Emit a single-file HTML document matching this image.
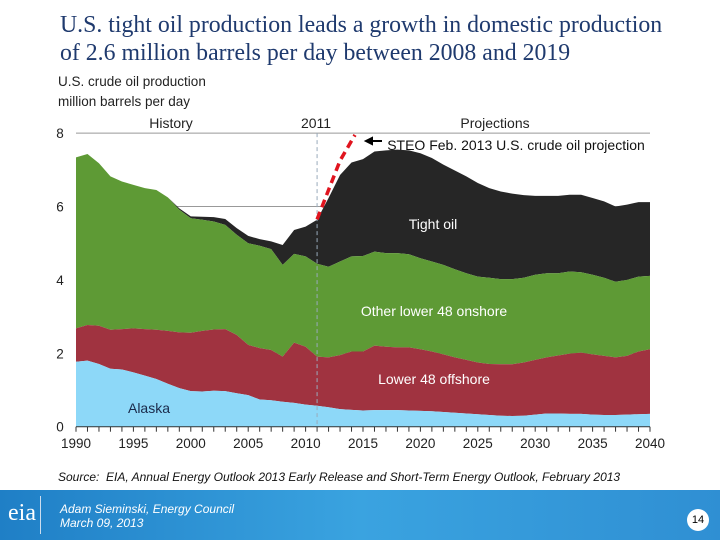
<!DOCTYPE html>
<html><head><meta charset="utf-8"><style>
body{margin:0;width:720px;height:540px;overflow:hidden;background:#fff;font-family:"Liberation Sans",sans-serif;position:relative}
.t{position:absolute;white-space:nowrap}
</style></head><body>
<div class="t" style="left:60px;top:11px;font-family:'Liberation Serif',serif;font-size:23.8px;line-height:28px;color:#1f3a6e">U.S. tight oil production leads a growth in domestic production<br>of 2.6 million barrels per day between 2008 and 2019</div>
<div class="t" style="left:58px;top:72px;font-size:13.5px;line-height:20px;color:#222">U.S. crude oil production<br>million barrels per day</div>
<svg id="c" width="720" height="470" style="position:absolute;left:0;top:0"></svg>
<div class="t" style="left:58px;top:470px;font-size:12px;font-style:italic;color:#111">Source:&nbsp; EIA, Annual Energy Outlook 2013 Early Release and Short-Term Energy Outlook, February 2013</div>
<div style="position:absolute;left:0;top:490px;width:720px;height:50px;background:linear-gradient(90deg,#1f7fc6,#3aa3e0 50%,#2f8fd3)">
 <div class="t" style="left:8px;top:10px;font-family:'Liberation Serif',serif;font-size:24px;color:#fff">eia</div>
 <div style="position:absolute;left:40px;top:6px;width:1px;height:38px;background:#cde"></div>
 <div class="t" style="left:60px;top:12px;font-size:12px;line-height:14px;font-style:italic;color:#fff">Adam Sieminski, Energy Council<br>March 09, 2013</div>
 <div class="t" style="left:687px;top:19px;width:22px;height:22px;border-radius:11px;background:#fff;color:#000;font-size:11px;text-align:center;line-height:22px">14</div>
</div>
<script>
const years=[];for(let y=1990;y<=2040;y++)years.push(y);
const alaska=[1.77,1.80,1.71,1.58,1.56,1.48,1.39,1.30,1.17,1.05,0.97,0.96,0.98,0.97,0.91,0.86,0.74,0.72,0.68,0.65,0.60,0.57,0.53,0.48,0.46,0.44,0.45,0.45,0.45,0.44,0.43,0.42,0.40,0.38,0.36,0.34,0.32,0.30,0.29,0.30,0.33,0.36,0.36,0.35,0.35,0.33,0.32,0.32,0.33,0.34,0.35];
const offshoreCum=[2.68,2.77,2.75,2.64,2.66,2.68,2.66,2.64,2.61,2.57,2.56,2.61,2.65,2.66,2.50,2.23,2.14,2.09,1.91,2.29,2.18,1.91,1.89,1.95,2.05,2.05,2.21,2.18,2.16,2.16,2.11,2.05,1.97,1.89,1.82,1.75,1.71,1.70,1.70,1.75,1.82,1.89,1.94,1.99,2.02,1.97,1.93,1.89,1.93,2.05,2.11];
const onshoreCum=[7.34,7.43,7.18,6.82,6.68,6.59,6.50,6.45,6.25,5.91,5.68,5.64,5.59,5.50,5.23,5.00,4.93,4.84,4.41,4.71,4.64,4.44,4.36,4.50,4.64,4.65,4.77,4.73,4.73,4.70,4.59,4.50,4.41,4.29,4.18,4.09,4.06,4.02,4.02,4.06,4.14,4.18,4.18,4.23,4.21,4.14,4.06,3.95,4.00,4.09,4.11];
const totalCum=[7.34,7.43,7.18,6.82,6.68,6.59,6.50,6.45,6.25,5.95,5.73,5.72,5.71,5.66,5.41,5.20,5.11,5.05,4.95,5.36,5.45,5.64,6.23,6.86,7.20,7.29,7.50,7.53,7.55,7.53,7.45,7.32,7.14,6.98,6.82,6.64,6.50,6.41,6.35,6.31,6.29,6.29,6.29,6.32,6.32,6.23,6.14,6.00,6.05,6.12,6.12];
const steoYears=[2011,2012,2013,2014.3];
const steoValues=[5.65,6.45,7.25,7.95];
const yTicks=[0,2,4,6,8];
const xTickLabels=[1990,1995,2000,2005,2010,2015,2020,2025,2030,2035,2040];
const NS='http://www.w3.org/2000/svg';const svg=document.getElementById('c');
const X=y=>76+(y-1990)*11.48, Y=v=>426.7-v*36.7;
function el(t,a,txt){const e=document.createElementNS(NS,t);for(const k in a)e.setAttribute(k,a[k]);if(txt!=null)e.textContent=txt;svg.appendChild(e);return e;}
yTicks.forEach(v=>{if(v>0){const g=el('line',{x1:76,x2:650,y1:Y(v),y2:Y(v),stroke:'#999','stroke-width':1});

}
const t=el('text',{x:60,y:Y(v)+5,'font-size':13.5,'text-anchor':'middle',fill:'#222'},v);

});
function area(lo,hi,color,name){let d='M'+years.map((y,i)=>X(y)+','+Y(hi[i])).join('L');
for(let i=years.length-1;i>=0;i--)d+='L'+X(years[i])+','+Y(lo?lo[i]:0);
const p=el('path',{d:d+'Z',fill:color});

}
area(onshoreCum,totalCum,'#262626','tight-oil-area');
area(offshoreCum,onshoreCum,'#5e9a35','other-onshore-area');
area(alaska,offshoreCum,'#a03340','offshore-area');
area(null,alaska,'#8dd8f8','alaska-area');
const dl=el('line',{x1:X(2011),x2:X(2011),y1:Y(8),y2:Y(0),stroke:'#9ab',"stroke-dasharray":'4,3','stroke-width':1});


const ax=el('line',{x1:76,x2:650,y1:Y(0),y2:Y(0),stroke:'#333'});


for(let y=1990;y<=2040;y++){const tk=el('line',{x1:X(y),x2:X(y),y1:Y(0),y2:Y(0)+5,stroke:'#333'});

}
xTickLabels.forEach(y=>{const t=el('text',{x:X(y),y:448,'font-size':13.5,'text-anchor':'middle',fill:'#222'},y);

});
let sd='M'+steoYears.map((y,i)=>X(y)+','+Y(steoValues[i])).join('L');
const sp=el('path',{d:sd,fill:'none',stroke:'#e0141e','stroke-width':3.5,'stroke-dasharray':'8,5','stroke-linejoin':'round'});


const ar=el('path',{d:'M382,141L366,141M366,141L372,138L372,144Z',stroke:'#000','stroke-width':2,fill:'#000'});


[['History',171,128,'#222','history-label'],['2011',316,128,'#222','year-2011-label'],['Projections',495,128,'#222','projections-label'],
['STEO Feb. 2013 U.S. crude oil projection',516,150,'#111','steo-label'],['Tight oil',433,229,'#fff','tight-oil-label'],
['Other lower 48 onshore',434,316,'#fff','onshore-label'],['Lower 48 offshore',434,384,'#fff','offshore-label'],['Alaska',149,413,'#1a2a4a','alaska-label']].forEach(a=>{
const t=el('text',{x:a[1],y:a[2],'font-size':14,'text-anchor':'middle',fill:a[3]},a[0]);

});
</script>
</body></html>
